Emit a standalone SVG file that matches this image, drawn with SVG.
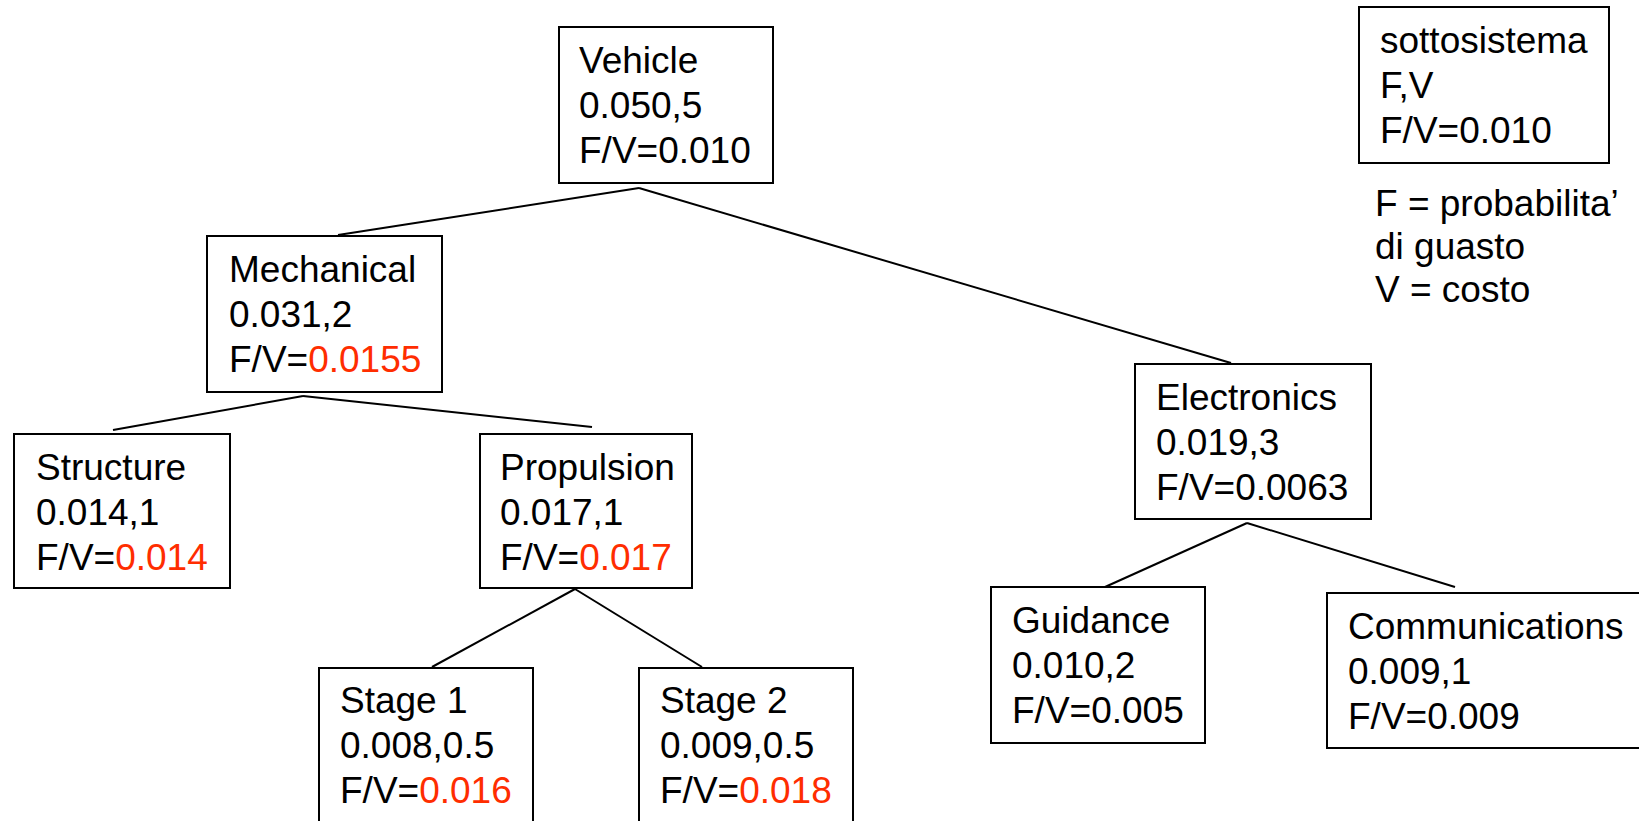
<svg xmlns="http://www.w3.org/2000/svg" width="1639" height="821" viewBox="0 0 1639 821">
<style>
  .box { fill: #ffffff; stroke: #000000; stroke-width: 2; }
  .lbl { font-family: "Liberation Sans", Arial, sans-serif; font-size: 37px; fill: #000000; }
  .red { fill: #ff2d00; }
  .conn line { stroke: #000000; stroke-width: 2; }
</style>
<rect x="0" y="0" width="1639" height="821" fill="#ffffff"/>
<g id="connectors" class="conn">
  <line x1="639" y1="188" x2="338" y2="235"/>
  <line x1="639" y1="188" x2="1231" y2="363"/>
  <line x1="303" y1="396" x2="113" y2="430"/>
  <line x1="303" y1="396" x2="592" y2="427"/>
  <line x1="575" y1="589" x2="432" y2="667"/>
  <line x1="575" y1="589" x2="702" y2="667"/>
  <line x1="1247" y1="523" x2="1105" y2="587"/>
  <line x1="1247" y1="523" x2="1455" y2="587"/>
</g>
<g id="vehicle">
  <rect class="box" x="559" y="27" width="214" height="156"/>
  <text class="lbl" x="579" y="73">Vehicle</text>
  <text class="lbl" x="579" y="118">0.050,5</text>
  <text class="lbl" x="579" y="163">F/V=0.010</text>
</g>
<g id="mechanical">
  <rect class="box" x="207" y="236" width="235" height="156"/>
  <text class="lbl" x="229" y="282">Mechanical</text>
  <text class="lbl" x="229" y="327">0.031,2</text>
  <text class="lbl" x="229" y="372">F/V=<tspan class="red">0.0155</tspan></text>
</g>
<g id="structure">
  <rect class="box" x="14" y="434" width="216" height="154"/>
  <text class="lbl" x="36" y="480">Structure</text>
  <text class="lbl" x="36" y="525">0.014,1</text>
  <text class="lbl" x="36" y="570">F/V=<tspan class="red">0.014</tspan></text>
</g>
<g id="propulsion">
  <rect class="box" x="480" y="434" width="212" height="154"/>
  <text class="lbl" x="500" y="480">Propulsion</text>
  <text class="lbl" x="500" y="525">0.017,1</text>
  <text class="lbl" x="500" y="570">F/V=<tspan class="red">0.017</tspan></text>
</g>
<g id="stage1">
  <rect class="box" x="319" y="668" width="214" height="170"/>
  <text class="lbl" x="340" y="713">Stage 1</text>
  <text class="lbl" x="340" y="758">0.008,0.5</text>
  <text class="lbl" x="340" y="803">F/V=<tspan class="red">0.016</tspan></text>
</g>
<g id="stage2">
  <rect class="box" x="639" y="668" width="214" height="170"/>
  <text class="lbl" x="660" y="713">Stage 2</text>
  <text class="lbl" x="660" y="758">0.009,0.5</text>
  <text class="lbl" x="660" y="803">F/V=<tspan class="red">0.018</tspan></text>
</g>
<g id="electronics">
  <rect class="box" x="1135" y="364" width="236" height="155"/>
  <text class="lbl" x="1156" y="410">Electronics</text>
  <text class="lbl" x="1156" y="455">0.019,3</text>
  <text class="lbl" x="1156" y="500">F/V=0.0063</text>
</g>
<g id="guidance">
  <rect class="box" x="991" y="587" width="214" height="156"/>
  <text class="lbl" x="1012" y="633">Guidance</text>
  <text class="lbl" x="1012" y="678">0.010,2</text>
  <text class="lbl" x="1012" y="723">F/V=0.005</text>
</g>
<g id="communications">
  <rect class="box" x="1327" y="593" width="330" height="155"/>
  <text class="lbl" x="1348" y="639">Communications</text>
  <text class="lbl" x="1348" y="684">0.009,1</text>
  <text class="lbl" x="1348" y="729">F/V=0.009</text>
</g>
<g id="legend">
  <rect class="box" x="1359" y="7" width="250" height="156"/>
  <text class="lbl" x="1380" y="53">sottosistema</text>
  <text class="lbl" x="1380" y="98">F,V</text>
  <text class="lbl" x="1380" y="143">F/V=0.010</text>
</g>
<g id="legend-notes">
  <text class="lbl" x="1375" y="216">F = probabilita’</text>
  <text class="lbl" x="1375" y="259">di guasto</text>
  <text class="lbl" x="1375" y="302">V = costo</text>
</g>
</svg>
